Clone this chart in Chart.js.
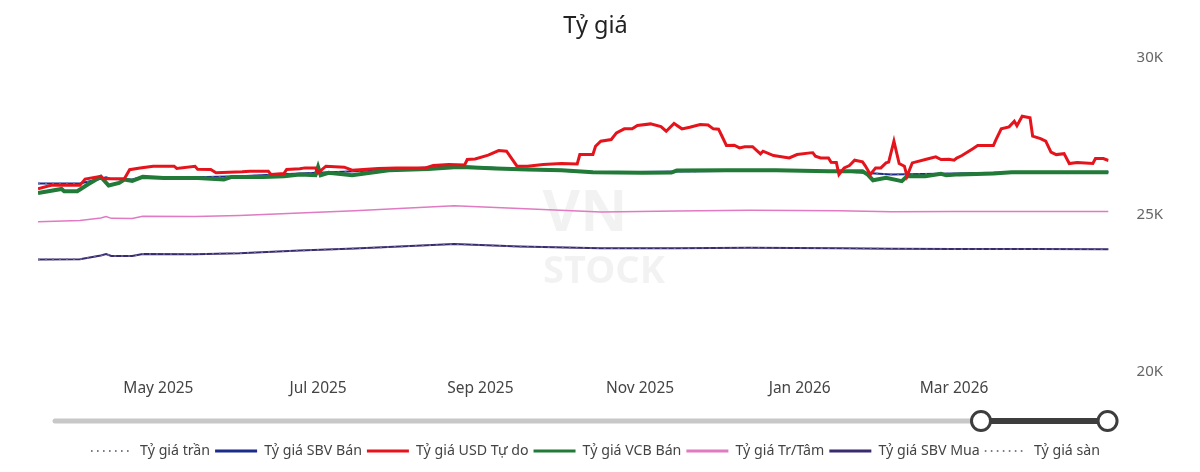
<!DOCTYPE html>
<html><head><meta charset="utf-8">
<script src="https://cdn.jsdelivr.net/npm/chart.js@4.4.1/dist/chart.umd.min.js"></script>
<style>html,body{margin:0;padding:0;background:#fff;}#wrap{width:1200px;height:472px;}</style>
</head><body><div id="wrap"><canvas id="c" width="1200" height="472"></canvas></div>
<script>
const chartTitle = 'Tỷ giá';
const seriesNames = ['Tỷ giá trần','Tỷ giá SBV Bán','Tỷ giá USD Tự do','Tỷ giá VCB Bán','Tỷ giá Tr/Tâm','Tỷ giá SBV Mua','Tỷ giá sàn'];

const rateDates = ['2025-03-16','2025-04-01','2025-04-09','2025-04-11','2025-04-13','2025-04-21','2025-04-25','2025-05-15','2025-06-01','2025-06-24','2025-07-15','2025-08-01','2025-08-22','2025-09-16','2025-10-17','2025-11-15','2025-12-13','2026-01-16','2026-02-05','2026-03-01','2026-04-01','2026-04-29'];
const ceilingRate = [26010,26010,26160,26210,26150,26140,26215,26210,26240,26325,26400,26474,26565,26475,26360,26390,26413,26400,26300,26330,26375,26373];
const sbvSell     = [26010,26010,26160,26210,26150,26140,26215,26210,26240,26325,26400,26474,26565,26475,26360,26390,26413,26400,26300,26330,26375,26373];
const centralRate = [24790,24830,24913,24960,24900,24894,24968,24960,24990,25072,25140,25213,25300,25215,25105,25130,25155,25140,25110,25120,25120,25117];
const sbvBuy      = [23590,23600,23716,23760,23700,23700,23767,23760,23790,23875,23940,24000,24080,24000,23950,23950,23960,23950,23930,23920,23920,23917];
const floorRate   = [23590,23600,23716,23760,23700,23700,23767,23760,23790,23875,23940,24000,24080,24000,23950,23950,23960,23950,23930,23920,23920,23917];

const freeDates = ['2025-03-16','2025-03-21','2025-04-01','2025-04-03','2025-04-09','2025-04-10','2025-04-18','2025-04-20','2025-04-24','2025-04-29','2025-05-07','2025-05-08','2025-05-15','2025-05-16','2025-05-21','2025-05-23','2025-06-02','2025-06-05','2025-06-12','2025-06-13','2025-06-18','2025-06-19','2025-06-24','2025-06-26','2025-06-30','2025-07-01','2025-07-04','2025-07-11','2025-07-14','2025-07-24','2025-07-31','2025-08-11','2025-08-14','2025-08-20','2025-08-26','2025-08-27','2025-08-30','2025-09-04','2025-09-08','2025-09-11','2025-09-15','2025-09-19','2025-09-25','2025-10-02','2025-10-08','2025-10-09','2025-10-14','2025-10-15','2025-10-17','2025-10-21','2025-10-23','2025-10-26','2025-10-29','2025-10-31','2025-11-05','2025-11-09','2025-11-11','2025-11-14','2025-11-17','2025-11-20','2025-11-24','2025-11-27','2025-11-29','2025-12-01','2025-12-02','2025-12-04','2025-12-07','2025-12-09','2025-12-11','2025-12-14','2025-12-17','2025-12-18','2025-12-22','2025-12-28','2025-12-31','2026-01-05','2026-01-06','2026-01-07','2026-01-09','2026-01-12','2026-01-13','2026-01-15','2026-01-16','2026-01-18','2026-01-20','2026-01-22','2026-01-25','2026-01-26','2026-01-28','2026-01-30','2026-02-01','2026-02-03','2026-02-04','2026-02-06','2026-02-08','2026-02-10','2026-02-11','2026-02-13','2026-02-18','2026-02-22','2026-02-24','2026-02-27','2026-03-01','2026-03-02','2026-03-04','2026-03-08','2026-03-10','2026-03-16','2026-03-17','2026-03-19','2026-03-22','2026-03-24','2026-03-25','2026-03-27','2026-03-30','2026-03-31','2026-04-03','2026-04-05','2026-04-07','2026-04-09','2026-04-12','2026-04-14','2026-04-17','2026-04-23','2026-04-24','2026-04-27','2026-04-29'];
const freeMarket = [25840,25950,25950,26150,26240,26160,26160,26450,26500,26560,26560,26490,26560,26460,26455,26350,26380,26400,26400,26300,26330,26455,26480,26507,26507,26350,26560,26530,26433,26487,26507,26507,26582,26614,26600,26773,26790,26911,27060,27040,26560,26560,26614,26645,26633,26933,26933,27197,27357,27410,27622,27750,27750,27856,27908,27820,27675,27920,27750,27800,27888,27870,27750,27740,27570,27220,27230,27143,27180,27180,26955,27038,26900,26825,26933,26985,26990,26879,26825,26825,26687,26680,26295,26507,26580,26751,26700,26580,26295,26507,26507,26665,26690,27357,26645,26560,26242,26665,26773,26857,26773,26780,26750,26820,26900,27111,27220,27220,27410,27750,27813,27993,27850,28153,28100,27516,27440,27357,27006,26930,26960,26645,26680,26650,26805,26805,26742];

const vcbDates = ['2025-03-16','2025-03-25','2025-03-26','2025-03-31','2025-04-04','2025-04-09','2025-04-12','2025-04-16','2025-04-18','2025-04-21','2025-04-25','2025-05-03','2025-05-16','2025-05-26','2025-05-29','2025-06-10','2025-06-18','2025-06-24','2025-06-30','2025-07-01','2025-07-02','2025-07-05','2025-07-14','2025-07-28','2025-08-12','2025-08-22','2025-08-27','2025-09-07','2025-09-19','2025-10-02','2025-10-14','2025-11-02','2025-11-13','2025-11-15','2025-12-04','2025-12-23','2026-01-12','2026-01-25','2026-01-27','2026-01-29','2026-02-03','2026-02-09','2026-02-11','2026-02-18','2026-02-24','2026-02-26','2026-03-03','2026-03-16','2026-03-23','2026-04-29'];
const vcbSell = [25710,25837,25764,25764,25977,26220,25946,26030,26137,26090,26220,26188,26188,26137,26220,26220,26240,26295,26273,26540,26273,26350,26273,26433,26475,26528,26528,26487,26455,26433,26369,26350,26360,26423,26433,26433,26400,26400,26295,26114,26188,26083,26242,26242,26316,26270,26300,26327,26369,26369];

const axisStart = '2025-03-16';
const axisEnd = '2026-04-29';
const tickDates = ['2025-05-01','2025-07-01','2025-09-01','2025-11-01','2026-01-01','2026-03-01'];
const tickLabels = ['May 2025','Jul 2025','Sep 2025','Nov 2025','Jan 2026','Mar 2026'];
const yTickValues = [20000,25000,30000];
const yTickLabels = ['20K','25K','30K'];

const toDay = s => Date.parse(s + 'T00:00:00Z') / 86400000;
const pts = (dates, vals) => dates.map((d, i) => ({x: toDay(d), y: vals[i]}));

const FONT = "'Noto Sans', 'Open Sans', sans-serif";

const styles = [
  {data: pts(rateDates, ceilingRate), color: '#6b6b9c', width: 1.6, dash: [2,5], legendColor: '#7d7d8a', legendDash: [1.6,4.4], legendWidth: 2, order: 2},
  {data: pts(rateDates, sbvSell), color: '#1b2b8c', width: 2, dash: [], legendColor: '#1b2b8c', legendDash: [], legendWidth: 3, order: 3},
  {data: pts(freeDates, freeMarket), color: '#e5141c', width: 3, dash: [], legendColor: '#e5141c', legendDash: [], legendWidth: 3, order: 0},
  {data: pts(vcbDates, vcbSell), color: '#217a37', width: 4, dash: [], legendColor: '#217a37', legendDash: [], legendWidth: 3, order: 1},
  {data: pts(rateDates, centralRate), color: '#e07ac2', width: 1.5, dash: [], legendColor: '#e07ac2', legendDash: [], legendWidth: 3, order: 4},
  {data: pts(rateDates, sbvBuy), color: '#3b2a6e', width: 2, dash: [], legendColor: '#3b2a6e', legendDash: [], legendWidth: 3, order: 6},
  {data: pts(rateDates, floorRate), color: '#6b6b9c', width: 1.6, dash: [2,5], legendColor: '#7d7d8a', legendDash: [1.6,4.4], legendWidth: 2, order: 5}
];

const datasets = styles.map((s, i) => ({
  label: seriesNames[i],
  data: s.data,
  borderColor: s.color,
  backgroundColor: s.color,
  borderWidth: s.width,
  borderDash: s.dash,
  pointRadius: 0,
  pointStyle: 'line',
  tension: 0,
  fill: false,
  order: s.order
}));

const extras = {
  id: 'extras',
  beforeDatasetsDraw(chart) {
    const {ctx} = chart;
    ctx.save();
    ctx.fillStyle = 'rgba(0,0,0,0.05)';
    ctx.textAlign = 'center';
    ctx.textBaseline = 'middle';
    ctx.font = "bold 58px " + FONT;
    ctx.fillText('VN', 585, 214);
    ctx.font = "bold 38px " + FONT;
    ctx.fillText('STOCK', 604, 272);
    ctx.restore();
  },
  afterDraw(chart) {
    const {ctx, chartArea: a} = chart;
    const y = 421, x0 = a.left + 17, h1 = 981, h2 = a.right - 1;
    ctx.save();
    ctx.lineCap = 'round';
    ctx.strokeStyle = '#c8c8c8';
    ctx.lineWidth = 5;
    ctx.beginPath(); ctx.moveTo(x0, y); ctx.lineTo(h1, y); ctx.stroke();
    ctx.strokeStyle = '#3d3d3d';
    ctx.lineWidth = 6;
    ctx.beginPath(); ctx.moveTo(h1, y); ctx.lineTo(h2, y); ctx.stroke();
    [h1, h2].forEach(x => {
      ctx.beginPath(); ctx.arc(x, y, 9.5, 0, Math.PI * 2);
      ctx.fillStyle = '#fff'; ctx.fill();
      ctx.lineWidth = 3; ctx.strokeStyle = '#3d3d3d'; ctx.stroke();
    });
    ctx.restore();
  }
};

new Chart(document.getElementById('c'), {
  type: 'line',
  data: {datasets},
  plugins: [extras],
  options: {
    responsive: false,
    animation: false,
    devicePixelRatio: 1,
    layout: {padding: {left: 0, right: 9, top: 0, bottom: 4}},
    plugins: {
      tooltip: {enabled: false},
      title: {display: true, text: chartTitle, color: '#222', font: {family: FONT, size: 23.5, weight: 'normal'}, padding: {top: 12, bottom: 18}},
      legend: {
        position: 'bottom',
        labels: {
          usePointStyle: true, pointStyleWidth: 42, boxHeight: 14,
          color: '#444', font: {family: FONT, size: 14.2}, padding: 5,
          sort: (a, b) => a.datasetIndex - b.datasetIndex,
          generateLabels: chart => {
            const items = Chart.defaults.plugins.legend.labels.generateLabels(chart);
            items.forEach(it => {
              const s = styles[it.datasetIndex];
              it.strokeStyle = s.legendColor;
              it.fillStyle = s.legendColor;
              it.lineDash = s.legendDash;
              it.lineWidth = s.legendWidth;
              it.pointStyle = 'line';
            });
            return items;
          }
        }
      }
    },
    scales: {
      x: {
        type: 'linear',
        min: toDay(axisStart), max: toDay(axisEnd),
        grid: {display: false, drawTicks: false}, border: {display: false},
        afterBuildTicks: s => { s.ticks = tickDates.map(d => ({value: toDay(d)})); },
        afterFit: s => { s.height += 34; },
        ticks: {
          color: '#444', font: {family: FONT, size: 15.5}, padding: 7, maxRotation: 0, autoSkip: false,
          callback: v => { const i = tickDates.findIndex(d => toDay(d) === v); return i >= 0 ? tickLabels[i] : ''; }
        }
      },
      y: {
        position: 'right',
        min: 20000, max: 30000,
        grid: {display: false, drawTicks: false}, border: {display: false},
        afterBuildTicks: s => { s.ticks = yTickValues.map(v => ({value: v})); },
        ticks: {
          color: '#666', font: {family: FONT, size: 15}, padding: 28,
          callback: v => { const i = yTickValues.indexOf(v); return i >= 0 ? yTickLabels[i] : ''; }
        }
      },
      gutter: {
        position: 'left',
        grid: {display: false, drawTicks: false}, border: {display: false},
        ticks: {display: false},
        afterFit: s => { s.width = 38; }
      }
    }
  }
});
</script></body></html>
